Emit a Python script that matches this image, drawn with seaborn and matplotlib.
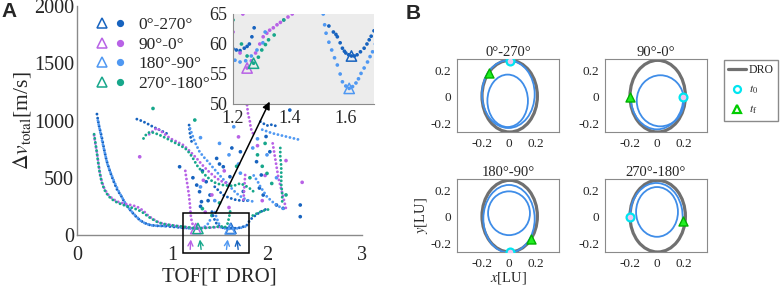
import numpy as np
import pandas as pd
import matplotlib
matplotlib.use("Agg")
import matplotlib.pyplot as plt
import seaborn as sns
from matplotlib.patches import Ellipse, Arc, Rectangle, ConnectionPatch
from matplotlib.lines import Line2D
from matplotlib.legend_handler import HandlerTuple

# ---------------- data ----------------
SERIES = ["0°-270°", "90°-0°", "180°-90°", "270°-180°"]
COLORS = ["#1763bf", "#b862e6", "#4f98f2", "#17a78b"]

DB_BRANCHES = [
    [(0.21, 1056), (0.23, 960), (0.26, 858), (0.285, 750), (0.31, 654), (0.345, 560), (0.38, 480),
     (0.42, 400), (0.47, 334), (0.51, 270), (0.56, 218), (0.61, 170), (0.66, 131), (0.71, 105),
     (0.77, 87), (0.84, 80), (0.91, 79), (1.0, 72), (1.08, 66), (1.15, 62), (1.2, 59.2),
     (1.212, 59.0), (1.225, 58.9), (1.24, 59.3), (1.25, 59.6), (1.258, 60), (1.267, 61.2),
     (1.275, 62.7)],
    [(1.42, 204), (1.44, 150), (1.46, 110), (1.49, 80), (1.52, 66), (1.54, 63), (1.556, 62),
     (1.565, 61.6), (1.57, 61.2), (1.58, 60.2), (1.588, 59.3), (1.595, 58.8), (1.6, 58.5),
     (1.61, 58.2), (1.62, 58), (1.63, 58), (1.64, 58.2), (1.652, 58.7), (1.665, 59.3),
     (1.675, 60), (1.683, 60.7), (1.69, 61.3), (1.7, 62.2), (1.72, 65), (1.76, 75), (1.79, 87),
     (1.82, 131), (1.86, 160), (1.91, 190), (1.96, 215), (2.02, 235)],
    [(0.63, 1012), (0.67, 1000), (0.70, 989), (0.75, 968), (0.80, 945), (0.85, 925), (0.91, 901),
     (0.96, 880)],
    [(1.18, 960), (1.185, 920), (1.19, 880), (1.2, 840), (1.21, 800)],
    [(1.45, 421), (1.5, 380), (1.54, 349), (1.6, 325), (1.68, 305), (1.74, 300), (1.8, 300)],
    [(1.93, 990), (1.97, 970), (2.0, 955), (2.03, 965), (2.07, 960), (2.1, 950)],
]
PU_BRANCHES = [
    [(0.18, 870), (0.195, 790), (0.21, 720), (0.225, 630), (0.24, 545), (0.26, 470), (0.29, 400),
     (0.33, 350), (0.38, 312), (0.43, 290), (0.49, 276), (0.54, 266), (0.59, 258), (0.64, 243),
     (0.68, 222), (0.72, 195), (0.75, 168), (0.8, 140), (0.84, 118), (0.9, 100), (0.98, 88),
     (1.05, 79), (1.12, 72), (1.17, 66), (1.2, 62), (1.225, 58.5), (1.25, 56), (1.265, 57.2),
     (1.28, 58.5), (1.295, 60), (1.307, 61.2), (1.32, 61.8), (1.33, 62.3), (1.343, 62.7),
     (1.356, 63.2), (1.368, 63.6), (1.38, 64), (1.395, 64.5), (1.41, 65), (1.45, 67), (1.5, 70)],
    [(1.14, 560), (1.15, 500), (1.16, 450), (1.17, 395), (1.18, 340), (1.185, 295), (1.19, 250),
     (1.195, 200), (1.2, 150), (1.21, 115), (1.22, 85), (1.235, 65)],
    [(0.76, 880), (0.84, 935), (0.91, 890), (0.98, 844), (1.05, 815), (1.12, 785), (1.19, 730),
     (1.26, 669), (1.31, 620), (1.37, 567), (1.42, 530), (1.47, 495), (1.52, 470), (1.58, 451),
     (1.63, 440)],
    [(1.79, 1134), (1.8, 1060), (1.82, 990), (1.83, 930), (1.86, 873)],
    [(1.77, 524), (1.765, 460), (1.76, 400), (1.755, 340), (1.75, 291)],
    [(2.06, 800), (2.08, 700), (2.1, 600), (2.12, 500), (2.15, 400), (2.18, 300), (2.2, 230)],
]
LB_BRANCHES = [
    [(0.22, 1000), (0.245, 900), (0.27, 800), (0.295, 710), (0.32, 620), (0.36, 530), (0.4, 450),
     (0.44, 380), (0.48, 320), (0.52, 260), (0.57, 210), (0.62, 165), (0.67, 125), (0.72, 100),
     (0.78, 85), (0.85, 80), (0.92, 78), (0.97, 82), (1.02, 75), (1.08, 68), (1.13, 62),
     (1.18, 58.2), (1.207, 57.3), (1.225, 57), (1.245, 57.2), (1.265, 58), (1.285, 59),
     (1.306, 60.2), (1.314, 62), (1.33, 66), (1.36, 80), (1.39, 110), (1.41, 150)],
    [(1.45, 200), (1.47, 150), (1.49, 105), (1.505, 80), (1.515, 68), (1.52, 65), (1.525, 63.2),
     (1.53, 61.8), (1.54, 60.3), (1.55, 59), (1.56, 57.7), (1.57, 56.5), (1.58, 55), (1.588, 53.7),
     (1.60, 53), (1.612, 52.6), (1.624, 52.9), (1.636, 53.5), (1.645, 54.2), (1.654, 55.1),
     (1.665, 56), (1.677, 57), (1.686, 57.9), (1.695, 58.7), (1.705, 60), (1.72, 62), (1.76, 70),
     (1.8, 85)],
    [(1.19, 931), (1.215, 870), (1.24, 814), (1.265, 770), (1.29, 727), (1.335, 680), (1.38, 640),
     (1.425, 595), (1.47, 552), (1.525, 500), (1.58, 451), (1.63, 405), (1.68, 363), (1.735, 330),
     (1.79, 305), (1.86, 291)],
    [(1.86, 520), (1.9, 470), (1.93, 422), (2.0, 334), (2.05, 295), (2.1, 262), (2.15, 238),
     (2.2, 218)],
    [(1.95, 920), (2.05, 890), (2.15, 870), (2.25, 850), (2.35, 830)],
]
GR_BRANCHES = [
    [(0.18, 880), (0.195, 800), (0.21, 713), (0.225, 620), (0.24, 540), (0.26, 460), (0.29, 393),
     (0.33, 340), (0.38, 305), (0.43, 280), (0.49, 262), (0.54, 248), (0.59, 235), (0.64, 220),
     (0.68, 203), (0.72, 180), (0.75, 160), (0.8, 135), (0.84, 116), (0.9, 98), (0.98, 87),
     (1.05, 79), (1.12, 73), (1.17, 67), (1.2, 64), (1.23, 60), (1.25, 58), (1.273, 56.8),
     (1.29, 57.8), (1.302, 59), (1.315, 59.9), (1.326, 60.7), (1.346, 61.5), (1.38, 64),
     (1.42, 67), (1.48, 72), (1.54, 75)],
    [(1.56, 70), (1.585, 100), (1.6, 150), (1.615, 218)],
    [(0.70, 843), (0.73, 880), (0.77, 901), (0.82, 890), (0.87, 873), (0.94, 845), (1.01, 814),
     (1.08, 785), (1.14, 756), (1.18, 720), (1.21, 684), (1.235, 650), (1.26, 611), (1.295, 575),
     (1.33, 538), (1.38, 500), (1.43, 465), (1.48, 448), (1.54, 436), (1.6, 430), (1.65, 430),
     (1.69, 442), (1.72, 451), (1.76, 435), (1.79, 422), (1.83, 400), (1.86, 378)],
    [(2.14, 760), (2.14, 680), (2.15, 600), (2.15, 520), (2.15, 440), (2.16, 360), (2.16, 280)],
    [(1.85, 170), (1.95, 210), (2.05, 230)],
]
DB_DOTS = [(1.08, 596), (1.26, 436), (1.29, 378), (1.31, 291), (1.36, 465), (1.40, 349), (1.47, 669),
           (1.54, 596), (1.61, 509), (1.72, 727), (1.89, 640), (1.94, 524), (1.96, 349), (2.03, 727),
           (2.24, 1091), (2.35, 262), (2.35, 160), (2.17, 233), (2.1, 262), (1.32, 560), (1.22, 500),
           (1.3, 250), (1.38, 300), (1.5, 620), (1.99, 860), (1.63, 760), (1.92, 410), (1.75, 380)]
PU_DOTS = [(0.66, 683), (1.7, 857), (2.37, 460), (1.33, 478), (1.42, 350), (1.55, 560), (1.9, 780),
           (1.98, 520), (2.2, 650), (1.35, 200), (1.6, 240), (1.95, 300)]
LB_DOTS = [(1.3, 850), (1.5, 800), (1.6, 700), (1.7, 620), (1.85, 760), (1.9, 840), (2.0, 700),
           (1.45, 300), (1.3, 420), (2.1, 500), (1.65, 945), (1.72, 540)]
GR_DOTS = [(0.80, 1105), (1.24, 1004), (2.0, 538), (1.95, 600), (1.9, 700), (2.05, 450), (1.82, 500),
           (1.5, 280), (1.32, 230), (1.42, 170), (2.2, 350), (1.68, 600), (1.98, 800)]

MIN_TOF = [1.62, 1.25, 1.612, 1.273]
MIN_DV = [58.0, 56.0, 52.6, 56.8]
ARROW_TIP_TOF = [1.68, 1.20, 1.59, 1.29]
ARROW_TAIL_TOF = [1.70, 1.19, 1.57, 1.31]
ZOOM_BOX = [1.12, -157, 0.69, 349]      # x, y, width, height in data units

# Panel B
ORBIT_TITLES = ["0°-270°", "90°-0°", "180°-90°", "270°-180°"]
DRO_ELLIPSE = [0.005, 0.005, 0.41, 0.54]  # cx, cy, width, height
TRANSFER_LOOPS = [
    [(-0.005, 0.02, 0.39, 0.51, 0, 360), (-0.01, -0.03, 0.30, 0.395, 0, 360)],
    [(0.025, -0.03, 0.35, 0.385, 0, 360), (0.0, 0.0, 0.39, 0.49, 180, 360)],
    [(0.0, -0.015, 0.38, 0.51, 0, 360), (0.0, 0.027, 0.31, 0.33, 0, 360)],
    [(-0.005, 0.0, 0.39, 0.51, -8, 180), (0.0, 0.037, 0.31, 0.375, 0, 360)],
]
T0_X = [0.005, 0.19, 0.005, -0.2]
T0_Y = [0.272, 0.0, -0.262, 0.0]
TF_X = [-0.15, -0.2, 0.16, 0.19]
TF_Y = [0.18, 0.0, -0.165, -0.035]

# ---------------- style ----------------
sns.set_style("white")
plt.rcParams["font.family"] = ["Liberation Serif", "DejaVu Serif"]
plt.rcParams["mathtext.fontset"] = "stix"
plt.rcParams["axes.unicode_minus"] = False

fig = plt.figure(figsize=(7.82, 2.87), dpi=100)
W, H = 782, 287


def px_axes(x0, y0, x1, y1):
    return fig.add_axes([x0 / W, 1 - y1 / H, (x1 - x0) / W, (y1 - y0) / H])


# ---------------- data frames ----------------
rows, dots = [], []
for name, branches, dlist in zip(SERIES, [DB_BRANCHES, PU_BRANCHES, LB_BRANCHES, GR_BRANCHES],
                                 [DB_DOTS, PU_DOTS, LB_DOTS, GR_DOTS]):
    for bi, br in enumerate(branches):
        for x, y in br:
            rows.append((name, f"{name}#{bi}", x, y))
    for x, y in dlist:
        dots.append((name, x, y))
df = pd.DataFrame(rows, columns=["series", "branch", "tof", "dv"])
dots_df = pd.DataFrame(dots, columns=["series", "tof", "dv"])
mins_df = pd.DataFrame({"series": SERIES, "tof": MIN_TOF, "dv": MIN_DV})
palette = dict(zip(SERIES, COLORS))
draw_order = ["0°-270°", "180°-90°", "90°-0°", "270°-180°"]

# ---------------- panel A ----------------
axA = px_axes(77, 6, 362, 235)
sns.lineplot(data=df, x="tof", y="dv", hue="series", units="branch", estimator=None, sort=False,
             palette=palette, hue_order=draw_order, ax=axA, legend=False,
             linewidth=2.1, linestyle=(0, (0.01, 1.4)), dash_capstyle="round")
sns.scatterplot(data=dots_df, x="tof", y="dv", hue="series", palette=palette, hue_order=draw_order,
                s=7, linewidth=0, ax=axA, legend=False)
sns.scatterplot(data=mins_df, x="tof", y="dv", hue="series", palette=palette, hue_order=draw_order,
                marker="^", s=55, linewidth=1.1, ax=axA, legend=False)
tri = axA.collections[-1]
tri.set_edgecolors(tri.get_facecolors())
tri.set_facecolors("none")

axA.set_xlim(0, 3)
axA.set_ylim(0, 2000)
axA.set_xticks([0, 1, 2, 3])
axA.set_yticks([0, 500, 1000, 1500, 2000])
axA.tick_params(direction="in", length=3, width=0.8, color="#8a8a8a", labelsize=14.5, pad=2)
axA.tick_params(axis="x", pad=8)
for s in ["top", "right"]:
    axA.spines[s].set_visible(False)
for s in ["left", "bottom"]:
    axA.spines[s].set_color("#8a8a8a")
    axA.spines[s].set_linewidth(1.0)
axA.set_xlabel("TOF[T DRO]", fontsize=15, labelpad=2)
axA.set_ylabel(r"$\Delta v_{\mathrm{total}}$[m/s]", fontsize=15.5, labelpad=1)

# zoom rectangle and small arrows
axA.add_patch(Rectangle((ZOOM_BOX[0], ZOOM_BOX[1]), ZOOM_BOX[2], ZOOM_BOX[3], fill=False,
                        edgecolor="black", linewidth=1.1, clip_on=False, zorder=5))
for name, xt, xs in zip(SERIES, ARROW_TIP_TOF, ARROW_TAIL_TOF):
    axA.annotate("", xy=(xt, -15), xytext=(xs, -150), xycoords="data",
                 arrowprops=dict(arrowstyle="->", color=palette[name], lw=1.0,
                                 mutation_scale=9), annotation_clip=False)

# legend
handles = []
for name in SERIES:
    h1 = Line2D([], [], ls="none", marker="^", ms=7, mfc="none", mec=palette[name], mew=1.1)
    h2 = Line2D([], [], ls="none", marker="o", ms=4.2, mfc=palette[name], mec=palette[name])
    handles.append((h1, h2))
axA.legend(handles, SERIES, handler_map={tuple: HandlerTuple(ndivide=None, pad=0.25)},
           loc="upper left", bbox_to_anchor=(0.066, 0.952), frameon=False, fontsize=12.5,
           handlelength=1.75, handletextpad=0.7, labelspacing=0.2, borderpad=0, borderaxespad=0)

# inset
axI = px_axes(233, 14, 374, 104)
axI.set_facecolor("#ececec")
sns.scatterplot(data=df, x="tof", y="dv", hue="series", palette=palette, hue_order=draw_order,
                s=7, linewidth=0, ax=axI, legend=False)
sns.scatterplot(data=mins_df, x="tof", y="dv", hue="series", palette=palette, hue_order=draw_order,
                marker="^", s=55, linewidth=1.1, ax=axI, legend=False)
tri = axI.collections[-1]
tri.set_edgecolors(tri.get_facecolors())
tri.set_facecolors("none")
axI.set_xlim(1.2, 1.7)
axI.set_ylim(50, 65)
axI.set_xticks([1.2, 1.4, 1.6])
axI.set_yticks([50, 55, 60, 65])
axI.set_xlabel("")
axI.set_ylabel("")
axI.tick_params(direction="in", length=0, labelsize=13, pad=4)
for s in ["top", "right"]:
    axI.spines[s].set_visible(False)
for s in ["left", "bottom"]:
    axI.spines[s].set_color("#8a8a8a")

con = ConnectionPatch(xyA=(1.46, 192), coordsA=axA.transData, xyB=(1.33, 50.4), coordsB=axI.transData,
                      arrowstyle="-|>", color="black", lw=1.1, mutation_scale=11, zorder=10)
fig.add_artist(con)

# ---------------- panel B ----------------
boxes = [(457, 59, 559, 132), (605, 59, 707, 132), (457, 179, 559, 252), (605, 179, 707, 252)]
for i, (bx, title) in enumerate(zip(boxes, ORBIT_TITLES)):
    ax = px_axes(*bx)
    cx, cy, w, h = DRO_ELLIPSE
    ax.add_patch(Ellipse((cx, cy), w, h, fill=False, edgecolor="#707070", lw=2.3, zorder=2))
    for (lx, ly, lw_, lh, t1, t2) in TRANSFER_LOOPS[i]:
        if t2 - t1 >= 360:
            ax.add_patch(Ellipse((lx, ly), lw_, lh, fill=False, edgecolor="#3f8de8", lw=1.3, zorder=3))
        else:
            ax.add_patch(Arc((lx, ly), lw_, lh, theta1=t1, theta2=t2, edgecolor="#3f8de8", lw=1.3, zorder=3))
    sns.scatterplot(x=[T0_X[i]], y=[T0_Y[i]], ax=ax, marker="o", s=32, color="#00e5f0", linewidth=1.6,
                    zorder=5, legend=False)
    c = ax.collections[-1]
    c.set_edgecolors("#00e5f0")
    c.set_facecolors("#f2c6ee")
    sns.scatterplot(x=[TF_X[i]], y=[TF_Y[i]], ax=ax, marker="^", s=42, color="#22ee22", linewidth=1.0,
                    zorder=5, legend=False)
    c = ax.collections[-1]
    c.set_edgecolors("#00b000")
    ax.set_xlim(-0.385, 0.37)
    ax.set_ylim(-0.265, 0.285)
    ax.set_xticks([-0.2, 0, 0.2])
    ax.set_yticks([-0.2, 0, 0.2])
    ax.set_xticklabels(["-0.2", "0", "0.2"])
    ax.set_yticklabels(["-0.2", "0", "0.2"])
    ax.tick_params(direction="in", length=2, width=0.6, color="#8a8a8a", labelsize=9.5, pad=4)
    for s in ax.spines.values():
        s.set_color("#8a8a8a")
        s.set_linewidth(0.8)
    ax.set_title(title, fontsize=10.5, pad=2)
    if i == 2:
        ax.set_xlabel(r"$x$[LU]", fontsize=10.5, labelpad=0)
        ax.set_ylabel(r"$y$[LU]", fontsize=10.5, labelpad=0)

leg_handles = [
    Line2D([], [], color="#707070", lw=2.3),
    Line2D([], [], ls="none", marker="o", ms=5, mfc="white", mec="#00e5f0", mew=1.6),
    Line2D([], [], ls="none", marker="^", ms=6, mfc="white", mec="#00cc00", mew=1.6),
]
fig.legend(leg_handles, ["DRO", r"$t_0$", r"$t_\mathrm{f}$"], loc="upper left",
           bbox_to_anchor=(724 / W, 1 - 60 / H), fontsize=8.5, frameon=True, fancybox=False,
           edgecolor="#8a8a8a", framealpha=1, handlelength=1.5, handletextpad=0.25,
           borderpad=0.35, borderaxespad=0, labelspacing=0.65)

fig.text(1 / W, 1 - 2 / H, "A", fontsize=15, fontweight="bold", family="Liberation Sans", va="top")
fig.text(406 / W, 1 - 4 / H, "B", fontsize=15, fontweight="bold", family="Liberation Sans", va="top")

fig.savefig("out.png", dpi=100)
